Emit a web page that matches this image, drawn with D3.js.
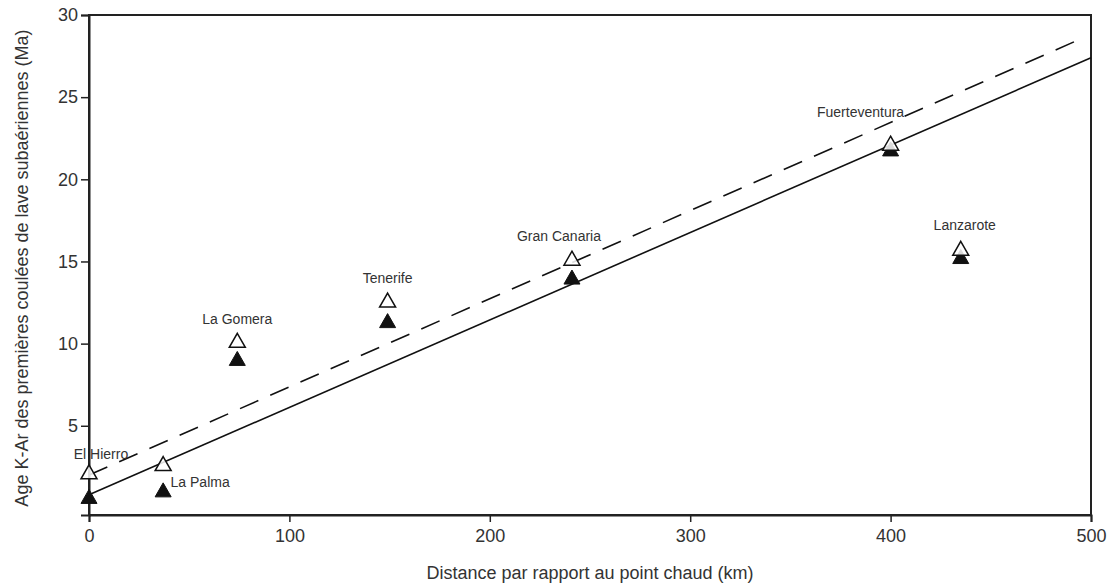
<!DOCTYPE html>
<html><head><meta charset="utf-8">
<script src="https://cdn.jsdelivr.net/npm/d3@7"></script>
<style>body{margin:0;background:#fff;} text{font-family:"Liberation Sans",Arial,sans-serif;fill:#333;}</style>
</head><body><svg id="c" width="1112" height="584"></svg>
<script>
const islands = ["El Hierro","La Palma","La Gomera","Tenerife","Gran Canaria","Fuerteventura","Lanzarote"];
const distance = [0, 37, 74, 149, 241, 400, 435];
const ageOpen = [2.2, 2.7, 10.2, 12.65, 15.2, 22.2, 15.8];
const ageFilled = [0.7, 1.1, 9.1, 11.4, 14.05, 21.85, 15.3];
const solidLine = [[0, 0.8], [500, 27.4]];
const dashedLine = [[0, 2.0], [494, 28.5]];
const xTicks = [0, 100, 200, 300, 400, 500];
const yTicks = [5, 10, 15, 20, 25, 30];
const xTitle = "Distance par rapport au point chaud (km)";
const yTitle = "Age K-Ar des premières coulées de lave subaériennes (Ma)";
// label offsets (dx, dy in px) relative to open triangle
const labelPos = [[12, -13], [37, 23], [0, -16], [0, -17], [-13, -17], [-30, -26], [4, -18]];

const svg = d3.select("#c");
const L = 89, R = 1091, T = 15, B = 515;
const x = d3.scaleLinear().domain([0, 500]).range([L, R]);
const y = d3.scaleLinear().domain([-0.43, 30]).range([B, T]);

// frame
svg.append("rect").attr("x", L).attr("y", T).attr("width", R - L).attr("height", B - T)
  .attr("fill", "none").attr("stroke", "#222").attr("stroke-width", 2);

const xa = svg.append("g").attr("transform", `translate(0,${B})`)
  .call(d3.axisBottom(x).tickValues(xTicks).tickSize(7).tickPadding(7));
const ya = svg.append("g").attr("transform", `translate(${L},0)`)
  .call(d3.axisLeft(y).tickValues(yTicks).tickSize(8).tickPadding(3));
[xa, ya].forEach(a => {
  a.select(".domain").attr("stroke", "#222").attr("stroke-width", 2);
  a.selectAll(".tick line").attr("stroke", "#222").attr("stroke-width", 1.5);
  a.selectAll(".tick text").attr("font-size", 18).attr("font-family", '"Liberation Sans",Arial,sans-serif').attr("fill", "#333");
});

svg.append("text").attr("x", (L + R) / 2).attr("y", 579).attr("text-anchor", "middle")
  .attr("font-size", 18).text(xTitle);
svg.append("text").attr("transform", `translate(28,${(T + B) / 2 + 3}) rotate(-90)`).attr("text-anchor", "middle")
  .attr("font-size", 18).text(yTitle);

const line = d3.line().x(d => x(d[0])).y(d => y(d[1]));
svg.append("path").attr("d", line(solidLine)).attr("fill", "none").attr("stroke", "#111").attr("stroke-width", 1.6);
svg.append("path").attr("d", line(dashedLine)).attr("fill", "none").attr("stroke", "#111").attr("stroke-width", 1.6)
  .attr("stroke-dasharray", "20,13");

function tri(cx, cy) {
  const w = 8, h = 14;
  return `M${cx},${cy - h / 2}L${cx + w},${cy + h / 2}L${cx - w},${cy + h / 2}Z`;
}
const g = svg.append("g");
islands.forEach((name, i) => {
  g.append("path").attr("d", tri(x(distance[i]), y(ageFilled[i]))).attr("fill", "#111").attr("stroke", "#111").attr("stroke-width", 1);
});
islands.forEach((name, i) => {
  g.append("path").attr("d", tri(x(distance[i]), y(ageOpen[i]))).attr("fill", "#fff").attr("fill-opacity", 0.85).attr("stroke", "#111").attr("stroke-width", 1.5);
});
islands.forEach((name, i) => {
  g.append("text").attr("x", x(distance[i]) + labelPos[i][0]).attr("y", y(ageOpen[i]) + labelPos[i][1])
    .attr("text-anchor", "middle").attr("font-size", 14).text(name);
});
</script></body></html>
